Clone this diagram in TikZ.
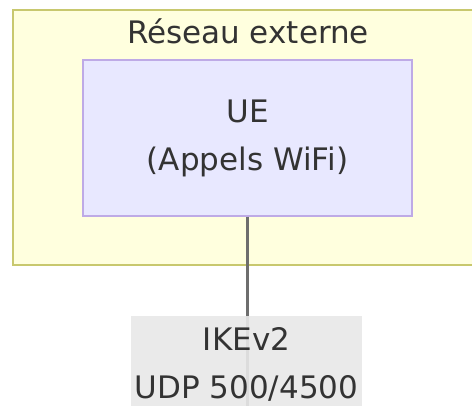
\documentclass[tikz,border=0pt]{standalone}
\usepackage{fontspec}
\newfontfamily\diagfont{DejaVu Sans}
\usetikzlibrary{positioning}
\definecolor{clusterfill}{RGB}{255, 255, 222}
\definecolor{clusterborder}{RGB}{200, 200, 110}
\definecolor{nodefill}{RGB}{232, 232, 255}
\definecolor{nodeborder}{RGB}{190, 170, 230}
\definecolor{labelfill}{RGB}{232, 232, 232}
\definecolor{linkgray}{RGB}{110, 110, 110}
\definecolor{textgray}{RGB}{51, 51, 51}

\begin{document}
\begin{tikzpicture}[
    x=1pt, y=-1pt,
    every node/.style={text=textgray, font=\diagfont\fontsize{31}{48}\selectfont},
    cluster/.style={rectangle, draw=clusterborder, fill=clusterfill, line width=1.5pt,
                    minimum width=469pt, minimum height=255pt},
    box/.style={rectangle, draw=nodeborder, fill=nodefill, line width=1.5pt,
                minimum width=329pt, minimum height=156pt, align=center},
    edgelabel/.style={rectangle, fill=labelfill, fill opacity=0.9, text opacity=1,
                      minimum width=229pt, minimum height=96pt, align=center},
    link/.style={draw=linkgray, line width=2.5pt}
]
\useasboundingbox (0,0) rectangle (472,406);
\clip (0,0) rectangle (472,406);
\node[cluster] (externe) at (247.5,137.5) {};
\node (titre) at (248,31) {Réseau externe};
\node[box] (ue) at (247.5,138) {UE\\(Appels WiFi)};
\coordinate (bas) at (247.5,420);
\draw[link] (ue.south) -- (bas);
\node[edgelabel] (ike) at (246.5,364) {IKEv2\\UDP 500/4500};
\end{tikzpicture}
\end{document}
